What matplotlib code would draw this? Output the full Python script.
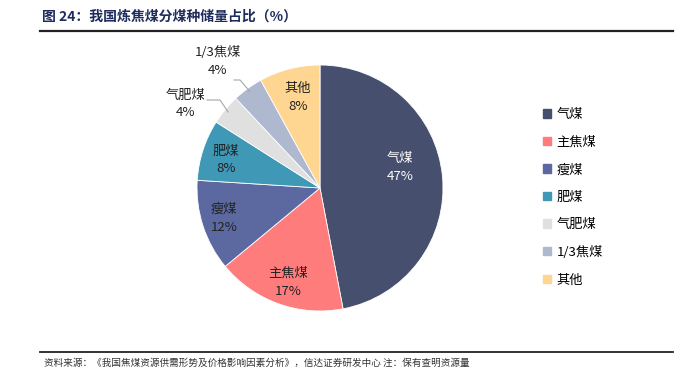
import numpy as np
import matplotlib
matplotlib.use("Agg")
import matplotlib.pyplot as plt

plt.rcParams['font.family'] = ['Noto Sans CJK SC', 'DejaVu Sans']

categories = ['气煤', '主焦煤', '瘦煤', '肥煤', '气肥煤', '1/3焦煤', '其他']
values = [47, 17, 12, 8, 4, 4, 8]
colors = ['#474F6F', '#FF7C7C', '#5B69A0', '#3F98B5', '#E0E0E0', '#AEB9CF', '#FFD691']
text_colors = ['white', '#222222', '#222222', '#222222', '#222222', '#222222', '#222222']

title = '图 24：我国炼焦煤分煤种储量占比（%）'
source = '资料来源：《我国焦煤资源供需形势及价格影响因素分析》，信达证券研发中心 注：保有查明资源量'

W, H = 695, 389
fig = plt.figure(figsize=(W / 100, H / 100), dpi=100)

def fx(px):
    return px / W

def fy(py):
    return 1 - py / H

# title and rules
fig.text(fx(42), fy(17), title, fontsize=10, fontweight='bold', color='#1E2B5C',
         ha='left', va='center')
fig.add_artist(plt.Line2D([fx(40), fx(673)], [fy(31), fy(31)], color='#222222', lw=1.6))
fig.add_artist(plt.Line2D([fx(40), fx(673)], [fy(352), fy(352)], color='#222222', lw=1.3))
fig.text(fx(44), fy(363), source, fontsize=6.9, color='#333333', ha='left', va='center')

# pie
cx, cy, r = 320, 188, 123
ax = fig.add_axes([fx(cx - r), fy(cy + r), (2 * r) / W, (2 * r) / H])
wedges, _ = ax.pie(values, colors=colors, startangle=90, counterclock=False,
                   radius=1, wedgeprops=dict(edgecolor='white', linewidth=0.6))
ax.set_xlim(-1, 1)
ax.set_ylim(-1, 1)
ax.set_aspect('equal')
ax.axis('off')

# label placement (radius, angle offset) per wedge
inside_r = [0.67, 0.81, 0.82, 0.80, None, None, 0.76]
angle_off = [9, 1, -0.6, 1.4, 0, 0, -0.8]
total = sum(values)
start = 90.0
for i, (cat, v) in enumerate(zip(categories, values)):
    span = 360.0 * v / total
    mid = start - span / 2
    start -= span
    if inside_r[i] is not None:
        a = np.deg2rad(mid + angle_off[i])
        x, y = inside_r[i] * np.cos(a), inside_r[i] * np.sin(a)
        ax.text(x, y, f'{cat}\n{v}%', ha='center', va='center', fontsize=9.5,
                color=text_colors[i], linespacing=1.5)
    else:
        a = np.deg2rad(mid)
        ex, ey = np.cos(a), np.sin(a)
        if cat == '气肥煤':
            lx, ly = (185 - cx) / r, (cy - 104) / r
            hx0, hx1, hy = (207 - cx) / r, (220 - cx) / r, (cy - 100) / r
        else:
            lx, ly = (218 - cx) / r, (cy - 62) / r
            hx0, hx1, hy = (234 - cx) / r, (240 - cx) / r, (cy - 80) / r
        ax.text(lx, ly, f'{cat}\n{v}%', ha='center', va='center', fontsize=9.5,
                color='#222222', linespacing=1.5, clip_on=False)
        ax.plot([hx0, hx1, ex * 0.97], [hy, hy, ey * 0.97], color='#A6A6A6', lw=0.8,
                clip_on=False)

# legend
handles = [plt.Rectangle((0, 0), 1, 1, color=c) for c in colors]
fig.legend(handles, categories, loc='upper left', bbox_to_anchor=(fx(538), fy(103)),
           frameon=False, fontsize=9.5, handlelength=0.6, handleheight=0.6,
           handletextpad=0.4, labelspacing=1.1, borderaxespad=0)

fig.savefig('out.png', dpi=100)
